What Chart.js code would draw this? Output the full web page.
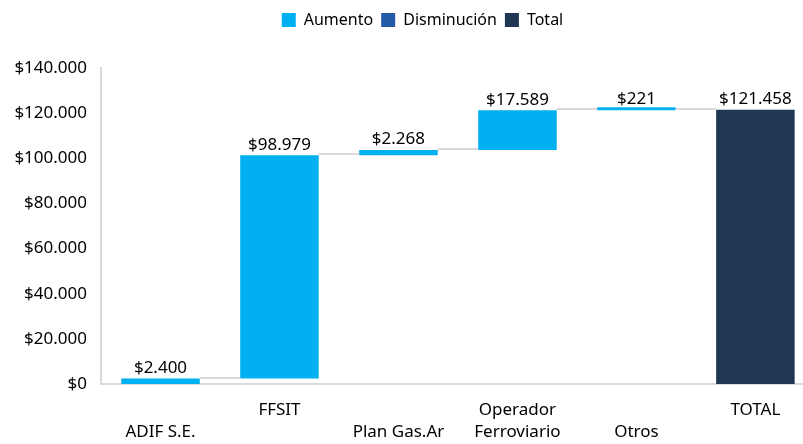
<!DOCTYPE html>
<html>
<head>
<meta charset="utf-8">
<script src="https://cdn.jsdelivr.net/npm/chart.js@4.4.1/dist/chart.umd.min.js"></script>
<style>
  html, body { margin: 0; padding: 0; background: #fff; }
  #wrap { width: 803px; height: 444px; }
</style>
</head>
<body>
<div id="wrap"><canvas id="chart"></canvas></div>
<script>
// categories (multi-line labels, staggered like the original)
const categories = [['', 'ADIF S.E.'], ['FFSIT', ''], ['', 'Plan Gas.Ar'], ['Operador', 'Ferroviario'], ['', 'Otros'], ['TOTAL', '']];
const changes = [2400, 98979, 2268, 17589, 221, null]; // increments, null = total column
const totalValue = 121458;
const yTicks = [0, 20000, 40000, 60000, 80000, 100000, 120000, 140000];

function fmt(n) {
    return '$' + String(Math.round(n)).replace(/\B(?=(\d{3})+(?!\d))/g, '.');
}

// build floating ranges for the waterfall
let running = 0;
const aumentoData = [];
const totalData = [];
const levels = []; // running total at the end of each column
changes.forEach(function (v, i) {
    if (v === null) {
        totalData.push({ x: i, y: [0, totalValue] });
        levels.push(totalValue);
    } else {
        aumentoData.push({ x: i, y: [running, running + v] });
        running += v;
        levels.push(running);
    }
});
const disminucionData = [];

const waterfallExtras = {
    id: 'waterfallExtras',
    beforeInit(chart) {
        // extra room below the legend
        const legend = chart.legend;
        const origFit = legend.fit;
        legend.fit = function () {
            origFit.call(legend);
            legend.height += 30;
        };
    },
    beforeDraw(chart) {
        // legend sits a bit right of centre in the original
        chart.legend.left += 21;
        chart.legend.right += 21;
    },
    afterDatasetsDraw(chart) {
        const ctx = chart.ctx;
        const y = chart.scales.y;
        const m0 = chart.getDatasetMeta(0);
        const m2 = chart.getDatasetMeta(2);
        let a0 = 0, a2 = 0;
        const els = changes.map(function (v) { return v === null ? m2.data[a2++] : m0.data[a0++]; });

        ctx.save();
        // connector lines
        ctx.strokeStyle = '#D9D9D9';
        ctx.lineWidth = 2;
        for (let i = 0; i < els.length - 1; i++) {
            const a = els[i], b = els[i + 1];
            const py = Math.round(y.getPixelForValue(levels[i])) - 1;
            ctx.beginPath();
            ctx.moveTo(a.x + a.width / 2, py);
            ctx.lineTo(b.x - b.width / 2, py);
            ctx.stroke();
        }
        // value labels
        ctx.fillStyle = '#000';
        ctx.font = '17px "Noto Sans"';
        ctx.textAlign = 'center';
        ctx.textBaseline = 'bottom';
        els.forEach(function (el, i) {
            const v = changes[i] === null ? totalValue : changes[i];
            const top = y.getPixelForValue(levels[i]);
            ctx.fillText(fmt(v), el.x, top - 2);
        });
        ctx.restore();
    }
};

const ctx = document.getElementById('chart').getContext('2d');
new Chart(ctx, {
    type: 'bar',
    data: {
        datasets: [
            {
                label: 'Aumento',
                data: aumentoData,
                backgroundColor: '#00B0F0',
                minBarLength: 3
            },
            {
                label: 'Disminución',
                data: disminucionData,
                backgroundColor: '#255AA8'
            },
            {
                label: 'Total',
                data: totalData,
                backgroundColor: '#203754'
            }
        ]
    },
    options: {
        responsive: true,
        maintainAspectRatio: false,
        animation: false,
        grouped: false,
        barPercentage: 0.66,
        categoryPercentage: 1,
        layout: {
            padding: { left: 0, right: 0, top: 4, bottom: 0 }
        },
        plugins: {
            legend: {
                display: true,
                position: 'top',
                labels: {
                    boxWidth: 14,
                    boxHeight: 14,
                    padding: 8,
                    color: '#000',
                    font: { family: 'Noto Sans', size: 16 }
                }
            },
            tooltip: { enabled: false }
        },
        scales: {
            x: {
                type: 'linear',
                offset: false,
                min: -0.5,
                max: 5.4,
                afterFit: function (scale) { scale.height = 60; },
                afterBuildTicks: function (scale) {
                    scale.ticks = categories.map(function (c, i) { return { value: i }; });
                },
                grid: { display: false, drawTicks: false },
                border: { display: true, color: '#D9D9D9', width: 2 },
                ticks: {
                    color: '#000',
                    padding: 15,
                    maxRotation: 0,
                    autoSkip: false,
                    font: { family: 'Noto Sans', size: 17, lineHeight: 1.3 },
                    callback: function (v) { return categories[v]; }
                }
            },
            y: {
                min: 0,
                max: 140000,
                afterFit: function (scale) { scale.width = 101; },
                afterBuildTicks: function (scale) {
                    scale.ticks = yTicks.map(function (v) { return { value: v }; });
                },
                grid: { display: false, drawTicks: false },
                border: { display: true, color: '#D9D9D9', width: 2 },
                ticks: {
                    color: '#000',
                    padding: 14,
                    font: { family: 'Noto Sans', size: 17 },
                    callback: function (v) { return fmt(v); }
                }
            }
        }
    },
    plugins: [waterfallExtras]
});
</script>
</body>
</html>
